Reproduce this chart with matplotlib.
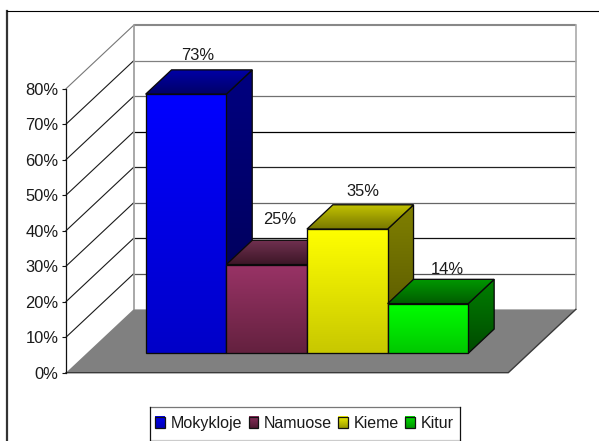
import numpy as np
import matplotlib
matplotlib.use("Agg")
import matplotlib.pyplot as plt
from matplotlib.colors import to_rgb
from matplotlib.image import BboxImage
from matplotlib.legend_handler import HandlerBase
from matplotlib.lines import Line2D
from matplotlib.patches import Patch, Polygon, Rectangle
from matplotlib.transforms import Bbox, TransformedBbox

# ---- data ----
series = ["Mokykloje", "Namuose", "Kieme", "Kitur"]
values = [73, 25, 35, 14]
labels = ["73%", "25%", "35%", "14%"]
yticks = [0, 10, 20, 30, 40, 50, 60, 70, 80]

# ---- style ----
front_colors = [("#0000FF", "#0000C8"), ("#993366", "#64213F"), ("#FFFF00", "#C8C800"), ("#00FF00", "#00C800")]
side_colors = [("#000080", "#000050"), ("#4D1A33", "#301020"), ("#808000", "#505000"), ("#008000", "#004A00")]
top_colors = [("#0000A8", "#000068"), ("#703050", "#3C1626"), ("#C4C400", "#787800"), ("#009800", "#005C00")]
legend_colors = [("#0000F0", "#0000B8"), ("#8A2E5C", "#4F1A32"), ("#F0F000", "#9C9C00"), ("#00E000", "#009800")]
grid_colors = {10: "#555555", 20: "#111111", 30: "#666666", 40: "#222222", 50: "#000000",
               60: "#707070", 70: "#808080", 80: "#888888"}
label_offsets_px = [(52, 38.5), (53.5, 45), (55.5, 37.5), (60, 34.5)]

W, H = 599, 441
FONT = "Liberation Sans"
plt.rcParams["font.family"] = [FONT, "DejaVu Sans"]
TEXT = "#1A1A1A"

fig = plt.figure(figsize=(W / 100, H / 100), dpi=100, facecolor="white")
x0, x1, y0, y1 = 66.0, 508.3, 372.7, 88.7
ax = fig.add_axes([x0 / W, 1 - y0 / H, (x1 - x0) / W, (y0 - y1) / H])
ax.patch.set_alpha(0)

XMAX, YMAX = 4.0, 80.0
px_x = (x1 - x0) / XMAX
px_y = (y0 - y1) / YMAX
DX, DY = 67.5 / px_x, 63.3 / px_y      # full floor depth in data units
BAR_D0, BAR_D1 = 0.306, 0.69           # bar depth range on the floor
BAR_W = 80.65 / px_x
BAR_X0 = 59.0 / px_x


def pr(x, v, d=0.0):
    """Oblique projection of (x, value, depth) to axes data coordinates."""
    return (x + d * DX, v + d * DY)


def gradient(poly, c_top, c_bottom, z):
    xs, ys = zip(*poly)
    t = np.linspace(0, 1, 64)[:, None, None]
    img = (1 - t) * np.array(to_rgb(c_top))[None, None, :] + t * np.array(to_rgb(c_bottom))[None, None, :]
    im = ax.imshow(img, extent=(min(xs), max(xs), min(ys), max(ys)), aspect="auto",
                   interpolation="bilinear", origin="upper", zorder=z)
    clip = Polygon(poly, closed=True, transform=ax.transData, fc="none", ec="none")
    im.set_clip_path(clip)
    im.set_clip_box(fig.bbox)
    ax.add_patch(Polygon(poly, closed=True, fc="none", ec="#0A0A0A", lw=0.95, zorder=z + 0.1,
                         joinstyle="miter", clip_on=False))


# walls and floor
ax.add_patch(Polygon([pr(0, 0), pr(0, 80), pr(0, 80, 1), pr(0, 0, 1)], fc="white", ec="none", zorder=1, clip_on=False))
ax.add_patch(Polygon([pr(0, 0, 1), pr(0, 80, 1), pr(XMAX, 80, 1), pr(XMAX, 0, 1)], fc="white", ec="none", zorder=1, clip_on=False))
for tick in yticks[1:]:
    c = grid_colors[tick]
    lw = 1.5 if tick == 80 else 0.9
    xa, ya = pr(0, tick, 1)
    xb, yb = pr(XMAX, tick, 1)
    ax.plot([xa, xb], [ya, yb], color=c, lw=lw, zorder=2, clip_on=False, solid_capstyle="butt")
    xf, yf = pr(0, tick)
    ax.plot([xf, xa], [yf, ya], color="#777777" if tick == 80 else "#1A1A1A", lw=0.8, zorder=2, clip_on=False)
xa, ya = pr(0, 0, 1)
xb, yb = pr(0, 80, 1)
ax.plot([xa, xb], [ya, yb], color="#999999", lw=1.2, zorder=2.1, clip_on=False)
xa, ya = pr(XMAX, 0, 1)
xb, yb = pr(XMAX, 80, 1)
ax.plot([xa, xb], [ya, yb], color="#AAAAAA", lw=1.2, zorder=2.1, clip_on=False)
ax.add_patch(Polygon([pr(0, 0), pr(0, 0, 1), pr(XMAX, 0, 1), pr(XMAX, 0)], fc="#808080", ec="none", zorder=3, clip_on=False))
xa, ya = pr(0, 0)
xb, yb = pr(XMAX, 0)
xc, yc = pr(XMAX, 0, 1)
ax.plot([xa, xb, xc], [ya, yb, yc], color="#3A3A3A", lw=1.0, zorder=3.1, clip_on=False)

# bars
for i, v in enumerate(values):
    a = BAR_X0 + i * BAR_W
    b = a + BAR_W
    z = 4 + i
    gradient([pr(b, 0, BAR_D0), pr(b, v, BAR_D0), pr(b, v, BAR_D1), pr(b, 0, BAR_D1)],
             side_colors[i][0], side_colors[i][1], z)
    gradient([pr(a, v, BAR_D0), pr(a, v, BAR_D1), pr(b, v, BAR_D1), pr(b, v, BAR_D0)],
             top_colors[i][0], top_colors[i][1], z + 0.2)
    gradient([pr(a, 0, BAR_D0), pr(a, v, BAR_D0), pr(b, v, BAR_D0), pr(b, 0, BAR_D0)],
             front_colors[i][0], front_colors[i][1], z + 0.4)
    ox, oy = label_offsets_px[i]
    ax.annotate(labels[i], xy=pr(a, v, BAR_D0), xytext=(ox * 0.72, oy * 0.72), textcoords="offset points",
                ha="center", va="center", fontsize=11.9, color=TEXT, zorder=20, annotation_clip=False)

# axes furniture
ax.set_xlim(0, XMAX)
ax.set_ylim(0, YMAX)
ax.set_xticks([])
ax.set_yticks(yticks)
ax.set_yticklabels([f"{t}%" for t in yticks], fontsize=11.9, color=TEXT)
ax.tick_params(axis="y", length=3, width=0.8, pad=2.4, color="#111111")
for name, sp in ax.spines.items():
    sp.set_visible(name == "left")
ax.spines["left"].set_color("#111111")
ax.spines["left"].set_linewidth(0.9)
ax.spines["left"].set_zorder(10)

# outer frame: only the left and top edges fall inside the picture
fig.add_artist(Line2D([7.2 / W, 7.2 / W], [0, 1 - 11 / H], color="#333333", lw=1.6, transform=fig.transFigure))
fig.add_artist(Line2D([6.5 / W, 1], [1 - 11.3 / H, 1 - 11.3 / H], color="#000000", lw=0.8, transform=fig.transFigure))


def frame_edge(xa_, ya_, xb_, yb_, color):
    fig.add_artist(Line2D([xa_ / W, xb_ / W], [1 - ya_ / H, 1 - yb_ / H], color=color, lw=0.9,
                          transform=fig.transFigure))


LX0, LX1, LY0, LY1 = 149.5, 459.5, 406.8, 440.4
frame_edge(LX0, LY0, LX1, LY0, "#777777")
frame_edge(LX0, LY1, LX1, LY1, "#CCCCCC")
frame_edge(LX0, LY0, LX0, LY1, "#111111")
frame_edge(LX1, LY0, LX1, LY1, "#111111")


class GradientHandler(HandlerBase):
    def create_artists(self, legend, orig_handle, xdescent, ydescent, width, height, fontsize, trans):
        c_top, c_bottom = orig_handle.colors
        t = np.linspace(0, 1, 16)[:, None, None]
        img = (1 - t) * np.array(to_rgb(c_top))[None, None, :] + t * np.array(to_rgb(c_bottom))[None, None, :]
        box = TransformedBbox(Bbox.from_bounds(-xdescent, -ydescent, width, height), trans)
        bi = BboxImage(box, interpolation="bilinear", origin="upper")
        bi.set_data(img)
        rect = Rectangle((-xdescent, -ydescent), width, height, fc="none", ec="#111111", lw=0.9, transform=trans)
        return [bi, rect]


class GradientPatch(Patch):
    def __init__(self, colors, label):
        super().__init__(label=label)
        self.colors = colors


handles = [GradientPatch(c, s) for c, s in zip(legend_colors, series)]
leg = ax.legend(handles=handles, ncol=4, loc="center left", bbox_to_anchor=(155.3 / W, 1 - 423.7 / H),
                bbox_transform=fig.transFigure, fontsize=11.5, frameon=False,
                handlelength=0.62, handleheight=0.72,
                handletextpad=0.32, columnspacing=0.42, borderpad=0, borderaxespad=0,
                handler_map={GradientPatch: GradientHandler()})
for t in leg.get_texts():
    t.set_color(TEXT)

fig.savefig("out.png", dpi=100)
